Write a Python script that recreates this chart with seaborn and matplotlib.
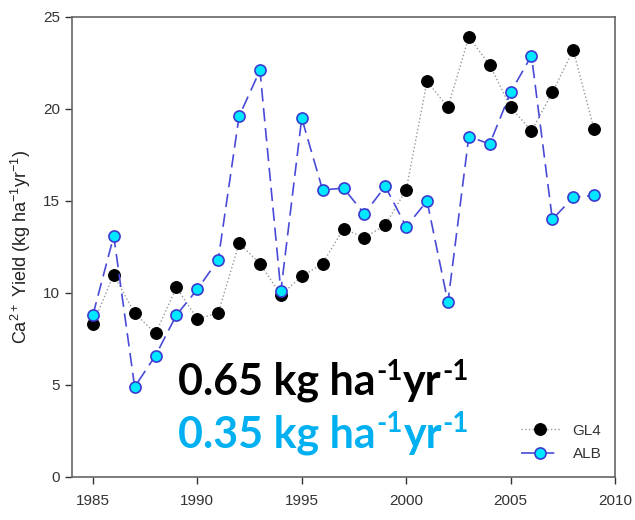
import numpy as np
import pandas as pd
import matplotlib
matplotlib.use("Agg")
import matplotlib.pyplot as plt
import seaborn as sns

years = list(range(1985, 2010))
gl4 = [8.3, 11.0, 8.9, 7.8, 10.3, 8.6, 8.9, 12.7, 11.6, 9.9, 10.9, 11.6, 13.5,
       13.0, 13.7, 15.6, 21.5, 20.1, 23.9, 22.4, 20.1, 18.8, 20.9, 23.2, 18.9]
alb = [8.8, 13.1, 4.9, 6.6, 8.8, 10.2, 11.8, 19.6, 22.1, 10.1, 19.5, 15.6, 15.7,
       14.3, 15.8, 13.6, 15.0, 9.5, 18.5, 18.1, 20.9, 22.9, 14.0, 15.2, 15.3]
xticks = [1985, 1990, 1995, 2000, 2005, 2010]
yticks = [0, 5, 10, 15, 20, 25]
ylabel = r"Ca$^{2+}$ Yield (kg ha$^{-1}$yr$^{-1}$)"
note_gl4 = [("0.65 kg ha", False), ("-1", True), ("yr", False), ("-1", True)]
note_alb = [("0.35 kg ha", False), ("-1", True), ("yr", False), ("-1", True)]

sns.set_style("ticks")
plt.rcParams['font.family'] = ['Liberation Sans', 'DejaVu Sans']
plt.rcParams['mathtext.fontset'] = 'custom'
plt.rcParams['mathtext.rm'] = 'Liberation Sans'
plt.rcParams['mathtext.it'] = 'Liberation Sans'

df1 = pd.DataFrame({"year": years, "val": gl4})
df2 = pd.DataFrame({"year": years, "val": alb})

fig = plt.figure(figsize=(6.35, 5.2), dpi=100)
ax = fig.add_axes([72/635, 43/520, 543/635, 460/520])

sns.lineplot(data=df1, x="year", y="val", ax=ax, color="#999999", linestyle=":",
             linewidth=1.0, marker="o", markersize=8.5, markerfacecolor="black",
             markeredgecolor="black", label="GL4")
sns.lineplot(data=df2, x="year", y="val", ax=ax, color="#4a4ad8", linewidth=1.2,
             dashes=(8, 4), marker="o", markersize=8, markerfacecolor="#00e8ff",
             markeredgecolor="#3a3ad0", markeredgewidth=1.2, label="ALB")

ax.set_xlim(1984, 2010)
ax.set_ylim(0, 25)
ax.set_xticks(xticks)
ax.set_yticks(yticks)
ax.set_xlabel("")
ax.set_ylabel(ylabel, fontsize=13, color="#222222", labelpad=7)
ax.tick_params(axis="both", labelsize=11, colors="#333333", length=5, width=1,
               direction="out")
ax.tick_params(axis="x", pad=7)
for s in ax.spines.values():
    s.set_visible(True)
    s.set_color("#666666")
    s.set_linewidth(1.2)


def rich_text(x, y, parts, color, size, sup_scale=0.64, raise_pt=12.5):
    kw = dict(color=color, family="Lato", weight="bold")
    prev = ax.text(x, y, parts[0][0], fontsize=size, va="baseline", ha="left", **kw)
    last_raised = False
    for txt, sup in parts[1:]:
        if sup:
            prev = ax.annotate(txt, xy=(1, 0), xycoords=prev, xytext=(0.5, raise_pt),
                               textcoords="offset points", va="bottom", ha="left",
                               fontsize=size * sup_scale, **kw)
            last_raised = True
        else:
            dy = -raise_pt if last_raised else 0
            prev = ax.annotate(txt, xy=(1, 0), xycoords=prev, xytext=(0.5, dy),
                               textcoords="offset points", va="bottom", ha="left",
                               fontsize=size, **kw)
            last_raised = False


rich_text(1989.08, 4.46, note_gl4, "black", 31)
rich_text(1989.08, 1.63, note_alb, "#00b0f0", 31)

leg = ax.legend(loc="lower right", frameon=False, fontsize=11,
                bbox_to_anchor=(1.0, 0.005), handlelength=2.6, handletextpad=0.8,
                labelspacing=0.6, labelcolor="#333333")

fig.savefig("out.png", dpi=100)
